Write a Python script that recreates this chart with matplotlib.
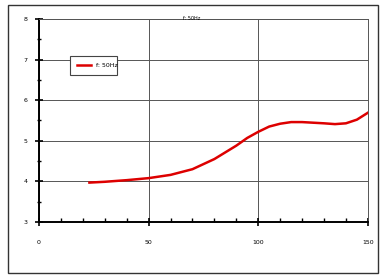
import matplotlib
matplotlib.use('Agg')
from matplotlib import pyplot as plt
from matplotlib.patches import Rectangle

# values
freq_x = [23, 30, 40, 50, 60, 70, 80, 90, 95, 100, 105, 110, 115, 120, 130, 135, 140, 145, 150]
freq_y = [3.97, 3.99, 4.03, 4.08, 4.16, 4.30, 4.55, 4.88, 5.07, 5.22, 5.35, 5.42, 5.46, 5.46, 5.43, 5.41, 5.43, 5.52, 5.69]
x_ticks = [0, 50, 100, 150]
y_ticks = [3, 4, 5, 6, 7, 8]

fig = plt.figure(figsize=(3.86, 2.77), dpi=100)
fig.patches.append(Rectangle((8 / 386, 4 / 277), 370 / 386, 268 / 277,
                             transform=fig.transFigure, fill=False,
                             edgecolor='#333333', linewidth=1))
ax = fig.add_axes([0.101, 0.1986, 0.852, 0.733])

ax.plot(freq_x, freq_y, color='#dd0000', linewidth=1.8, label='f: 50Hz')

ax.set_xlim(0, 150)
ax.set_ylim(3, 8)
ax.set_xticks(x_ticks)
ax.set_yticks(y_ticks)
ax.set_xticks(range(0, 151, 10), minor=True)
ax.set_yticks([3.5, 4.5, 5.5, 6.5, 7.5], minor=True)
ax.grid(True, which='major', color='#555555', linewidth=0.7)

for s in ['top', 'right']:
    ax.spines[s].set_color('#555555')
    ax.spines[s].set_linewidth(0.7)
for s in ['left', 'bottom']:
    ax.spines[s].set_color('black')
    ax.spines[s].set_linewidth(1.4)

ax.tick_params(which='major', direction='inout', length=6, width=1.2,
               labelsize=4.5)
ax.tick_params(axis='y', which='major', pad=5)
ax.tick_params(axis='x', which='major', pad=10)
ax.tick_params(axis='x', which='minor', direction='in', length=3, width=1.0)
ax.tick_params(axis='y', which='minor', direction='inout', length=3, width=1.0)

ax.text(0.465, 1.0, 'f: 50Hz', transform=ax.transAxes, fontsize=3.5,
        ha='center', va='center')

leg = ax.legend(loc='upper left', bbox_to_anchor=(0.085, 0.739, 0.161, 0.094),
                mode='expand', fontsize=4.5, fancybox=False, framealpha=1,
                edgecolor='#444444', handlelength=2.2, borderpad=1.1)
leg.get_frame().set_linewidth(0.8)

fig.savefig('out.png', dpi=100)
